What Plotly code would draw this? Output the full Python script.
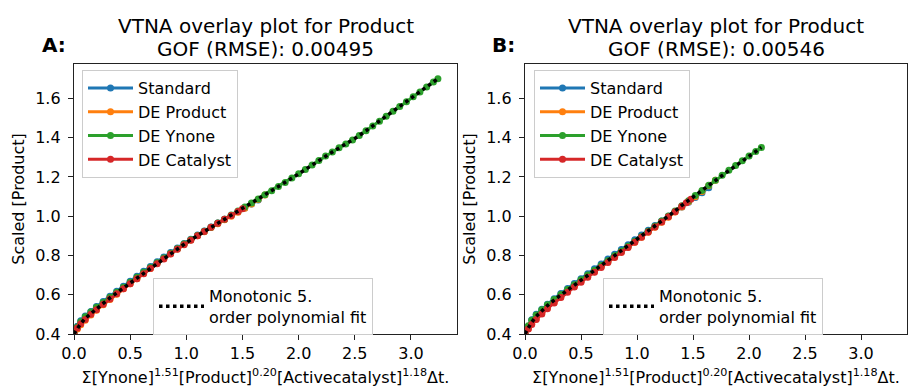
import plotly.graph_objects as go

# ---- Panel A data -------------------------------------------------------
std_a_x = [0.00, 0.03, 0.06, 0.10, 0.15, 0.20, 0.26, 0.32, 0.38, 0.44, 0.50, 0.56, 0.62, 0.68, 0.74,
           0.80, 0.86, 0.92, 0.98, 1.04, 1.10, 1.16, 1.22, 1.28, 1.34, 1.40, 1.46, 1.52, 1.58, 1.64]
std_a_y = [0.400, 0.440, 0.468, 0.492, 0.515, 0.540, 0.566, 0.592, 0.618, 0.643, 0.669, 0.694, 0.719,
           0.744, 0.768, 0.792, 0.815, 0.838, 0.861, 0.882, 0.904, 0.925, 0.945, 0.965, 0.985, 1.003,
           1.022, 1.042, 1.062, 1.082]

prod_a_x = [0.00, 0.03, 0.06, 0.10, 0.15, 0.20, 0.26, 0.32, 0.38, 0.44, 0.50, 0.56, 0.62, 0.68, 0.74,
            0.80, 0.86, 0.92, 0.98, 1.04, 1.10, 1.16, 1.22, 1.28, 1.34, 1.40, 1.46, 1.52, 1.58, 1.64, 1.70]
prod_a_y = [0.400, 0.425, 0.447, 0.470, 0.497, 0.521, 0.549, 0.576, 0.603, 0.630, 0.656, 0.682, 0.708,
            0.734, 0.760, 0.784, 0.809, 0.833, 0.857, 0.879, 0.900, 0.921, 0.942, 0.962, 0.982, 1.000,
            1.020, 1.040, 1.062, 1.085, 1.108]

yn_a_x = [0.00, 0.03, 0.06, 0.10, 0.15, 0.20, 0.26, 0.32, 0.38, 0.44, 0.50, 0.56, 0.62, 0.68, 0.74,
          0.80, 0.86, 0.92, 0.98, 1.04, 1.10, 1.16, 1.22, 1.28, 1.34, 1.40, 1.46, 1.52, 1.58, 1.64,
          1.70, 1.76, 1.82, 1.88, 1.94, 2.00, 2.06, 2.12, 2.18, 2.24, 2.30, 2.36, 2.42, 2.48, 2.54,
          2.60, 2.66, 2.72, 2.78, 2.84, 2.90, 2.96, 3.02, 3.08, 3.14, 3.20, 3.24]
yn_a_y = [0.400, 0.436, 0.462, 0.488, 0.512, 0.536, 0.561, 0.587, 0.612, 0.638, 0.663, 0.689, 0.714,
          0.739, 0.763, 0.787, 0.811, 0.834, 0.858, 0.880, 0.902, 0.923, 0.944, 0.965, 0.985, 1.006,
          1.027, 1.047, 1.067, 1.088, 1.109, 1.130, 1.151, 1.172, 1.194, 1.216, 1.238, 1.261, 1.284,
          1.306, 1.327, 1.348, 1.368, 1.388, 1.411, 1.435, 1.459, 1.484, 1.509, 1.534, 1.558, 1.583,
          1.608, 1.633, 1.658, 1.683, 1.700]

cat_a_x = [0.00, 0.03, 0.06, 0.10, 0.15, 0.20, 0.26, 0.32, 0.38, 0.44, 0.50, 0.56, 0.62, 0.68, 0.74,
           0.80, 0.86, 0.92, 0.98, 1.04, 1.10, 1.16, 1.22, 1.28, 1.34, 1.40, 1.46, 1.50]
cat_a_y = [0.400, 0.430, 0.452, 0.474, 0.500, 0.524, 0.551, 0.578, 0.605, 0.631, 0.656, 0.682, 0.707,
           0.733, 0.758, 0.782, 0.807, 0.831, 0.855, 0.878, 0.900, 0.922, 0.943, 0.964, 0.984, 1.004,
           1.024, 1.038]

fit_a_x = [0.00, 0.05, 0.10, 0.20, 0.30, 0.40, 0.50, 0.60, 0.70, 0.80, 0.90, 1.00, 1.10, 1.20, 1.30,
           1.40, 1.50, 1.60, 1.70, 1.80, 1.90, 2.00, 2.10, 2.20, 2.30, 2.40, 2.50, 2.60, 2.70, 2.80,
           2.90, 3.00, 3.10, 3.20, 3.24]
fit_a_y = [0.400, 0.445, 0.480, 0.530, 0.575, 0.618, 0.660, 0.702, 0.744, 0.785, 0.825, 0.865, 0.901,
           0.937, 0.972, 1.006, 1.040, 1.074, 1.108, 1.143, 1.179, 1.215, 1.253, 1.291, 1.327, 1.361,
           1.395, 1.435, 1.476, 1.517, 1.558, 1.600, 1.641, 1.683, 1.700]

# ---- Panel B data -------------------------------------------------------
std_b_x = [0.00, 0.03, 0.06, 0.10, 0.15, 0.20, 0.26, 0.32, 0.38, 0.44, 0.50, 0.56, 0.62, 0.68, 0.74,
           0.80, 0.86, 0.92, 0.98, 1.04, 1.10, 1.16, 1.22, 1.28, 1.34, 1.40, 1.46, 1.52, 1.58, 1.64]
std_b_y = [0.400, 0.440, 0.472, 0.500, 0.526, 0.552, 0.580, 0.606, 0.632, 0.657, 0.682, 0.707, 0.732,
           0.757, 0.782, 0.806, 0.830, 0.855, 0.880, 0.904, 0.928, 0.952, 0.976, 1.000, 1.024, 1.047,
           1.071, 1.095, 1.119, 1.145]

prod_b_x = [0.00, 0.03, 0.06, 0.10, 0.15, 0.20, 0.26, 0.32, 0.38, 0.44, 0.50, 0.56, 0.62, 0.68, 0.74,
            0.80, 0.86, 0.92, 0.98, 1.04, 1.10, 1.16, 1.22, 1.28, 1.34, 1.40, 1.46, 1.52, 1.58, 1.64, 1.70]
prod_b_y = [0.400, 0.428, 0.452, 0.477, 0.505, 0.532, 0.561, 0.589, 0.616, 0.642, 0.667, 0.692, 0.717,
            0.742, 0.767, 0.792, 0.817, 0.842, 0.867, 0.893, 0.918, 0.943, 0.969, 0.995, 1.021, 1.047,
            1.073, 1.099, 1.126, 1.155, 1.183]

yn_b_x = [0.00, 0.03, 0.06, 0.10, 0.15, 0.20, 0.26, 0.32, 0.38, 0.44, 0.50, 0.56, 0.62, 0.68, 0.74,
          0.80, 0.86, 0.92, 0.98, 1.04, 1.10, 1.16, 1.22, 1.28, 1.34, 1.40, 1.46, 1.52, 1.58, 1.64,
          1.70, 1.76, 1.82, 1.88, 1.94, 2.00, 2.06, 2.11]
yn_b_y = [0.400, 0.442, 0.470, 0.497, 0.523, 0.549, 0.576, 0.601, 0.626, 0.651, 0.676, 0.700, 0.725,
          0.749, 0.773, 0.798, 0.822, 0.847, 0.872, 0.897, 0.923, 0.949, 0.975, 1.001, 1.027, 1.053,
          1.079, 1.105, 1.131, 1.157, 1.183, 1.209, 1.234, 1.258, 1.282, 1.306, 1.329, 1.350]

cat_b_x = [0.00, 0.03, 0.06, 0.10, 0.15, 0.20, 0.26, 0.32, 0.38, 0.44, 0.50, 0.56, 0.62, 0.68, 0.74,
           0.80, 0.86, 0.92, 0.98, 1.04, 1.10, 1.16, 1.22, 1.28, 1.34, 1.40, 1.44, 1.48]
cat_b_y = [0.400, 0.426, 0.449, 0.474, 0.502, 0.529, 0.558, 0.586, 0.613, 0.639, 0.664, 0.689, 0.714,
           0.739, 0.764, 0.790, 0.815, 0.841, 0.867, 0.893, 0.919, 0.945, 0.971, 0.997, 1.023, 1.050,
           1.068, 1.086]

fit_b_x = [0.00, 0.05, 0.10, 0.20, 0.30, 0.40, 0.50, 0.60, 0.70, 0.80, 0.90, 1.00, 1.10, 1.20, 1.30,
           1.40, 1.50, 1.60, 1.70, 1.80, 1.90, 2.00, 2.11]
fit_b_y = [0.400, 0.452, 0.490, 0.545, 0.590, 0.632, 0.673, 0.714, 0.755, 0.796, 0.838, 0.880, 0.923,
           0.966, 1.009, 1.055, 1.098, 1.141, 1.183, 1.224, 1.264, 1.305, 1.350]

series_names = ["Standard", "DE Product", "DE Ynone", "DE Catalyst"]
series_colors = ["#1f77b4", "#ff7f0e", "#2ca02c", "#d62728"]
fit_name = "Monotonic 5.<br>order polynomial fit"
panel_labels = ["A:", "B:"]
title_line1 = "VTNA overlay plot for Product"
gof_values = ["0.00495", "0.00546"]
x_title = "Σ[Ynone]<sup>1.51</sup>[Product]<sup>0.20</sup>[Activecatalyst]<sup>1.18</sup>Δt."
y_title = "Scaled [Product]"
x_ticks = [0.0, 0.5, 1.0, 1.5, 2.0, 2.5, 3.0]
y_ticks = [0.4, 0.6, 0.8, 1.0, 1.2, 1.4, 1.6]

panels = [
    dict(series=[(std_a_x, std_a_y), (prod_a_x, prod_a_y), (yn_a_x, yn_a_y), (cat_a_x, cat_a_y)],
         fit=(fit_a_x, fit_a_y)),
    dict(series=[(std_b_x, std_b_y), (prod_b_x, prod_b_y), (yn_b_x, yn_b_y), (cat_b_x, cat_b_y)],
         fit=(fit_b_x, fit_b_y)),
]

FONT = "DejaVu Sans"
# Plot-area geometry (pixels)
W, H = 912, 387
ML, MR, MT, MB = 74, 5, 64, 53
PW, PH = W - ML - MR, H - MT - MB


def px_x(px):
    return (px - ML) / PW


def px_y(py):
    return (H - MB - py) / PH


fig = go.Figure()

for i, panel in enumerate(panels):
    xa = "x" if i == 0 else "x2"
    ya = "y" if i == 0 else "y2"
    main_legend = "legend" if i == 0 else "legend3"
    fit_legend = "legend2" if i == 0 else "legend4"
    for (sx, sy), name, color in zip(panel["series"], series_names, series_colors):
        fig.add_trace(go.Scatter(
            x=sx, y=sy, name=name, mode="lines+markers", xaxis=xa, yaxis=ya,
            line=dict(color=color, width=3),
            marker=dict(color=color, size=7, line=dict(width=0)),
            legend=main_legend,
        ))
    fx, fy = panel["fit"]
    fig.add_trace(go.Scatter(
        x=fx, y=fy, name=fit_name, mode="lines", xaxis=xa, yaxis=ya,
        line=dict(color="black", width=3.5, dash="dot"),
        legend=fit_legend,
    ))

axis_common = dict(
    showline=True, linecolor="#222", linewidth=1.3, mirror=True,
    ticks="outside", ticklen=5, tickwidth=1.2, tickcolor="#222",
    showgrid=False, zeroline=False, automargin=False,
    tickfont=dict(family=FONT, size=16, color="black"),
    tickformat=".1f",
)

x_range = [0, 3.41]
y_range = [0.4, 1.775]

fig.update_layout(
    width=W, height=H,
    margin=dict(l=ML, r=MR, t=MT, b=MB),
    paper_bgcolor="white", plot_bgcolor="white",
    font=dict(family=FONT, size=16, color="black"),
    xaxis=dict(domain=[0, px_x(457)], range=x_range, tickvals=x_ticks,
               title=dict(text=x_title, font=dict(size=16)), anchor="y", **axis_common),
    yaxis=dict(domain=[0, 1], range=y_range, tickvals=y_ticks, ticklabelstandoff=4,
               title=dict(text=y_title, font=dict(size=16), standoff=6), anchor="x", **axis_common),
    xaxis2=dict(domain=[px_x(525), 1.0], range=x_range, tickvals=x_ticks,
                title=dict(text=x_title, font=dict(size=16)), anchor="y2", **axis_common),
    yaxis2=dict(domain=[0, 1], range=y_range, tickvals=y_ticks, ticklabelstandoff=4,
                title=dict(text=y_title, font=dict(size=16), standoff=6), anchor="x2", **axis_common),
)

legend_style = dict(
    xref="paper", yref="paper", xanchor="left", yanchor="top",
    bgcolor="rgba(255,255,255,0.8)", bordercolor="#cccccc", borderwidth=1,
    font=dict(family=FONT, size=16, color="black"), itemwidth=45,
)
fig.update_layout(
    legend=dict(x=px_x(82), y=px_y(70), **legend_style),
    legend2=dict(x=px_x(153), y=px_y(278), **legend_style),
    legend3=dict(x=px_x(534), y=px_y(70), **legend_style),
    legend4=dict(x=px_x(603), y=px_y(278), **legend_style),
)

# Two-line panel titles and bold panel letters
for i, (xref, yref) in enumerate([("x domain", "y domain"), ("x2 domain", "y2 domain")]):
    fig.add_annotation(text=title_line1, xref=xref, yref=yref, x=0.5, y=px_y(26),
                       xanchor="center", yanchor="middle", showarrow=False,
                       font=dict(family=FONT, size=20, color="black"))
    fig.add_annotation(text=f"GOF (RMSE): {gof_values[i]}", xref=xref, yref=yref, x=0.5,
                       y=px_y(49), xanchor="center", yanchor="middle", showarrow=False,
                       font=dict(family=FONT, size=20, color="black"))

for label, px in zip(panel_labels, [54, 503]):
    fig.add_annotation(text=f"<b>{label}</b>", xref="paper", yref="paper",
                       x=px_x(px), y=px_y(45), xanchor="center", yanchor="middle",
                       showarrow=False, font=dict(family=FONT, size=20, color="black"))

fig.write_html("out.html")
